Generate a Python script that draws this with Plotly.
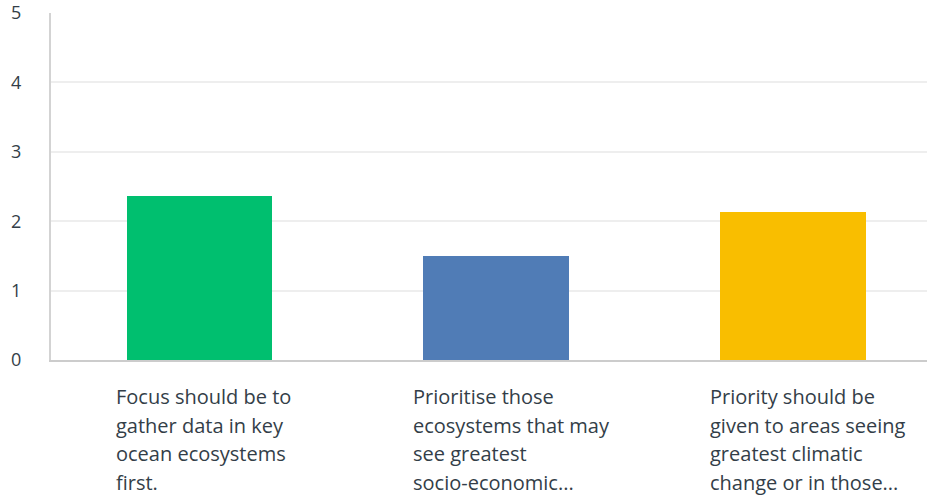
import plotly.graph_objects as go

# Average rating per statement
categories = [
    "Focus should be to<br>gather data in key<br>ocean ecosystems<br>first.",
    "Prioritise those<br>ecosystems that may<br>see greatest<br>socio-economic...",
    "Priority should be<br>given to areas seeing<br>greatest climatic<br>change or in those...",
]
values = [2.36, 1.5, 2.13]
colors = ["#00BF6F", "#507CB6", "#F9BE00"]
y_ticks = [0, 1, 2, 3, 4, 5]

positions = list(range(len(categories)))
text_color = "#333E48"
font_family = "Open Sans, Lato, sans-serif"
line_step = 28.5  # px between wrapped label lines

fig = go.Figure(
    go.Bar(
        x=positions,
        y=values,
        marker=dict(color=colors, line=dict(width=0)),
        width=0.49,
        hoverinfo="skip",
    )
)

# category labels, left-aligned under each bar, one annotation per line
for pos, label in zip(positions, categories):
    for k, line in enumerate(label.split("<br>")):
        fig.add_annotation(
            x=pos, y=0, xref="x", yref="y",
            text=line, showarrow=False,
            xanchor="left", yanchor="top", align="left",
            xshift=-84, yshift=-22 - line_step * k,
            borderpad=0,
            font=dict(family=font_family, size=20, color=text_color),
        )

fig.update_layout(
    width=927, height=497,
    margin=dict(l=51, r=0, t=13, b=137),
    paper_bgcolor="white", plot_bgcolor="white",
    showlegend=False,
    bargap=0,
    font=dict(family=font_family, size=18, color=text_color),
)
fig.update_xaxes(
    range=[-0.5, 2.452],
    showticklabels=False, showgrid=False, zeroline=False,
    showline=True, linecolor="#CCCCCC", linewidth=2,
    fixedrange=True,
)
fig.update_yaxes(
    range=[0, 5], tickvals=y_ticks,
    showgrid=True, gridcolor="#EEEEEE", gridwidth=2,
    zeroline=False,
    showline=True, linecolor="#D3D3D3", linewidth=2,
    ticks="", ticklabelstandoff=24,
    tickfont=dict(family=font_family, size=18, color=text_color),
    fixedrange=True,
)

fig.write_html("out.html")
